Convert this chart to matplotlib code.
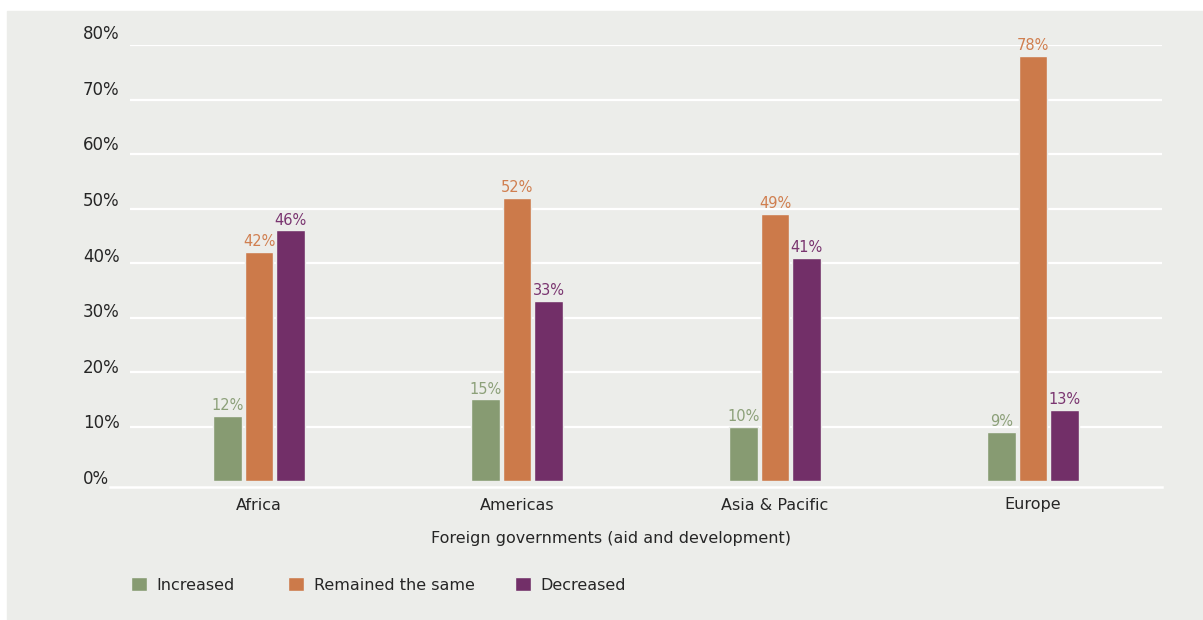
import matplotlib.pyplot as plt
import numpy as np
from matplotlib.patches import Rectangle
from matplotlib.lines import Line2D

# data
regions = ["Africa", "Americas", "Asia & Pacific", "Europe"]
increased = [12, 15, 10, 9]
remained = [42, 52, 49, 78]
decreased = [46, 33, 41, 13]
series_names = ["Increased", "Remained the same", "Decreased"]
yticks = [0, 10, 20, 30, 40, 50, 60, 70, 80]

colors = ["#879b72", "#cc7a4a", "#722f68"]
label_colors = ["#8ca079", "#d07f50", "#7a3570"]
bg = "#ecedea"
txt = "#262626"

W, H = 1203, 620
fig = plt.figure(figsize=(W / 100, H / 100), dpi=100, facecolor="white")
plt.rcParams['font.family'] = ['DejaVu Sans']

# grey panel
fig.add_artist(Rectangle((7 / W, 0), 1 - 7 / W, (H - 11) / H,
                         transform=fig.transFigure, color=bg, zorder=0))

ax = fig.add_axes([130 / W, (H - 481) / H, 1032 / W, 436 / H])
ax.set_facecolor("none")
ax.set_xlim(-0.5, 3.5)
ax.set_ylim(0, 80)
for s in ax.spines.values():
    s.set_visible(False)
ax.set_xticks([])
ax.set_yticks([])

# gridlines
for v in yticks[1:]:
    ax.axhline(v, color="white", lw=1.6, zorder=1)

# baseline, sits a bit below zero
fig.add_artist(Line2D([110 / W, 1162 / W], [1 - 487 / H] * 2,
                      transform=fig.transFigure, color="white", lw=1.8))

# y labels
for v in yticks:
    ax.text(-0.0455, v * 55.6 / 54.5 + 0.37, f"{v}%",
            transform=ax.get_yaxis_transform(), ha="left", va="center",
            fontsize=12, color=txt)

x = np.arange(len(regions))
w = 0.1124
step = 0.122
data = [increased, remained, decreased]
bars = []
for i, vals in enumerate(data):
    b = ax.bar(x + (i - 1) * step, vals, width=w, color=colors[i],
               edgecolor=bg, linewidth=1.0, zorder=2, label=series_names[i])
    bars.append(b)
    for xi, v in zip(x + (i - 1) * step, vals):
        ax.text(xi, v + 0.5, f"{v}%", ha="center", va="bottom",
                fontsize=10.5, color=label_colors[i], zorder=3)

# category labels
for xi, r in zip(x, regions):
    ax.annotate(r, xy=(xi, 0), xycoords=("data", "axes fraction"),
                xytext=(0, -24), textcoords="offset pixels",
                ha="center", va="center", fontsize=11.5, color=txt)

fig.text(611 / W, 1 - 539 / H, "Foreign governments (aid and development)",
         ha="center", va="center", fontsize=11.5, color=txt)

# legend, one entry at a time so the spacing follows the reference
leg_x = [131, 288, 515]
for b, name, lx in zip(bars, series_names, leg_x):
    fig.legend(handles=[b], labels=[name], loc="center left",
               bbox_to_anchor=(lx / W, 1 - 585 / H), frameon=False,
               fontsize=11.5, handlelength=1.0, handleheight=1.0,
               handletextpad=0.6, borderpad=0, borderaxespad=0,
               labelcolor=txt)

fig.savefig("out.png", dpi=100, facecolor="white")
